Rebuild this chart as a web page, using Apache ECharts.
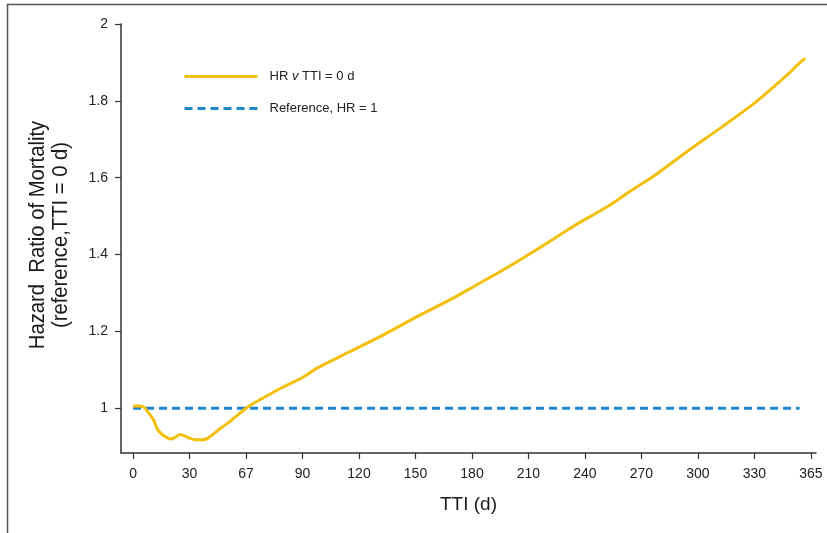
<!DOCTYPE html>
<html>
<head>
<meta charset="utf-8">
<script src="https://cdn.jsdelivr.net/npm/echarts@6/dist/echarts.min.js"></script>
<style>
html,body{margin:0;padding:0;background:#fff;}
#c{width:827px;height:533px;}
</style>
</head>
<body>
<div id="c"></div>
<script>
// ---- data ----
var ttiDays = [0, 3, 5.5, 8, 11, 13, 16, 20, 22.5, 25, 28, 30, 33, 36, 39, 41, 46, 52, 60, 63, 68, 80, 90, 98, 115, 133, 151, 169, 181, 199, 217, 235, 252, 265, 277, 295, 313, 331, 348, 354, 357];
var hrValues = [1.005, 1.006, 1.004, 0.99, 0.969, 0.945, 0.93, 0.92, 0.925, 0.932, 0.927, 0.922, 0.918, 0.918, 0.92, 0.927, 0.946, 0.968, 1.0, 1.01, 1.024, 1.056, 1.08, 1.105, 1.147, 1.191, 1.239, 1.284, 1.317, 1.367, 1.421, 1.477, 1.525, 1.568, 1.606, 1.671, 1.733, 1.798, 1.87, 1.899, 1.91];
var refDays = [0, 354];
var refValues = [1, 1];
var xTickValues = [0, 30, 60, 90, 120, 150, 180, 210, 240, 270, 300, 330, 360];
var xTickLabels = ['0', '30', '67', '90', '120', '150', '180', '210', '240', '270', '300', '330', '365'];
var yTickValues = [1, 1.2, 1.4, 1.6, 1.8, 2];
var yTickLabels = ['1', '1.2', '1.4', '1.6', '1.8', '2'];
var seriesNames = ['HR v TTI = 0 d', 'Reference, HR = 1'];
var yAxisTitle = 'Hazard  Ratio of Mortality\n(reference,TTI = 0 d)';
var xAxisTitle = 'TTI (d)';

function zip(a, b) { return a.map(function (v, i) { return [v, b[i]]; }); }

var chart = echarts.init(document.getElementById('c'), null, {renderer: 'canvas'});
var baseFont = "'Liberation Sans', Arial, Helvetica, sans-serif";

chart.setOption({
  animation: false,
  backgroundColor: '#ffffff',
  grid: {left: 121, right: 11, top: 24, bottom: 80, containLabel: false},
  legend: {
    orient: 'vertical',
    left: 178,
    top: 65,
    itemWidth: 73,
    itemHeight: 14,
    itemGap: 19,
    data: seriesNames,
    itemStyle: {opacity: 0, borderWidth: 0},
    lineStyle: {width: 3},
    textStyle: {
      fontFamily: baseFont, fontSize: 13, color: '#222', padding: [0, 0, 0, 7],
      rich: {
        n: {fontFamily: baseFont, fontSize: 13, color: '#222'},
        i: {fontFamily: baseFont, fontSize: 13, color: '#222', fontStyle: 'italic'}
      }
    },
    formatter: function (name) {
      if (name === seriesNames[0]) return '{n|HR }{i|v}{n| TTI = 0 d}';
      return '{n|' + name + '}';
    }
  },
  xAxis: {
    type: 'value',
    min: -6.4,
    max: 362.7,
    name: xAxisTitle,
    nameLocation: 'middle',
    nameGap: 42,
    nameTextStyle: {fontFamily: baseFont, fontSize: 19, color: '#1a1a1a'},
    splitLine: {show: false},
    axisLine: {show: true, onZero: false, lineStyle: {color: '#333', width: 1.5}},
    axisTick: {show: true, length: 6, customValues: xTickValues, lineStyle: {color: '#333', width: 1.2}},
    axisLabel: {
      customValues: xTickValues,
      margin: 14,
      fontFamily: baseFont, fontSize: 14, color: '#222',
      formatter: function (v) { var i = xTickValues.indexOf(v); return i >= 0 ? xTickLabels[i] : ''; }
    }
  },
  yAxis: {
    type: 'value',
    min: 0.8836,
    max: 2.0,
    splitLine: {show: false},
    axisLine: {show: true, onZero: false, lineStyle: {color: '#333', width: 1.5}},
    axisTick: {show: true, length: 6, customValues: yTickValues, lineStyle: {color: '#333', width: 1.2}},
    axisLabel: {
      customValues: yTickValues,
      margin: 13,
      fontFamily: baseFont, fontSize: 14, color: '#222',
      formatter: function (v) {
        for (var i = 0; i < yTickValues.length; i++) if (Math.abs(yTickValues[i] - v) < 1e-6) return yTickLabels[i];
        return '';
      }
    }
  },
  graphic: [
    {
      type: 'polyline',
      silent: true,
      shape: {points: [[7.5, 533], [7.5, 4.5], [827, 4.5]]},
      style: {stroke: '#555', lineWidth: 1.5, fill: null}
    },
    {
      type: 'text',
      silent: true,
      x: 49, y: 235,
      rotation: Math.PI / 2,
      scaleX: 0.92,
      style: {
        text: yAxisTitle,
        fontFamily: baseFont, fontSize: 22, lineHeight: 23,
        fill: '#1a1a1a', align: 'center', verticalAlign: 'middle'
      }
    }
  ],
  series: [
    {
      name: seriesNames[0],
      type: 'line',
      data: zip(ttiDays, hrValues),
      symbol: 'none',
      smooth: 0.3,
      lineStyle: {color: '#F3BF0B', width: 3},
      itemStyle: {color: '#F3BF0B'},
      z: 3
    },
    {
      name: seriesNames[1],
      type: 'line',
      data: zip(refDays, refValues),
      symbol: 'none',
      lineStyle: {color: '#1E86CE', width: 3, type: [8, 5]},
      itemStyle: {color: '#1E86CE'},
      z: 2
    }
  ]
});
</script>
</body>
</html>
